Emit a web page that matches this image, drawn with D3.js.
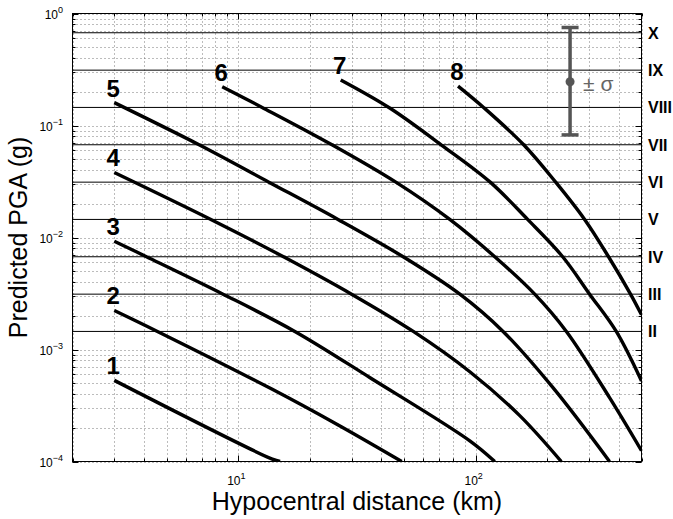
<!DOCTYPE html>
<html><head><meta charset="utf-8">
<script src="https://cdn.jsdelivr.net/npm/d3@7"></script>
<style>
body{margin:0;background:#fff;}
text{font-family:"Liberation Sans",Arial,Helvetica,sans-serif;}
</style>
</head><body>
<svg id="chart" width="673" height="519"></svg>
<script>
// ---- data ----
const magnitudes = [1, 2, 3, 4, 5, 6, 7, 8];
const m1Dist = [3, 13.9, 15.0];
const m1PGA  = [5.30e-4, 1.05e-4, 1.0e-4];
const m2Dist = [3, 4.56, 13.9, 26.0, 48.8];
const m2PGA  = [2.23e-3, 1.45e-3, 4.41e-4, 2.15e-4, 1.0e-4];
const m3Dist = [3, 4.10, 8.62, 17.3, 35.9, 94.5, 120.4];
const m3PGA  = [9.25e-3, 6.73e-3, 3.12e-3, 1.45e-3, 5.6e-4, 1.53e-4, 1.0e-4];
const m4Dist = [3, 7.66, 15.5, 30.0, 54.6, 94.5, 153.4, 229.6];
const m4PGA  = [0.0381, 0.0145, 0.00673, 0.00312, 0.00145, 6.33e-4, 2.57e-4, 1.0e-4];
const m5Dist = [3, 6.83, 13.45, 26.3, 49.5, 85.8, 130.5, 211.8, 366.7];
const m5PGA  = [0.160, 0.0673, 0.0312, 0.0145, 0.00673, 0.00312, 0.00145, 4.56e-4, 1.0e-4];
const m6Dist = [8.55, 12.6, 24.8, 46.1, 77.8, 120.4, 177.4, 241.2, 366.7, 500];
const m6PGA  = [0.222, 0.145, 0.0673, 0.0312, 0.0145, 0.00673, 0.00312, 0.00145, 3.72e-4, 1.25e-4];
const m7Dist = [27.0, 43.6, 71.5, 115.2, 165.6, 232.7, 302.2, 391.4, 500];
const m7PGA  = [0.255, 0.1425, 0.0673, 0.0312, 0.0145, 0.00673, 0.00312, 0.00145, 5.24e-4];
const m8Dist = [84.3, 108.0, 159.4, 217.4, 287.9, 363.2, 449.5, 500];
const m8PGA  = [0.225, 0.145, 0.0673, 0.0312, 0.0145, 0.00673, 0.00312, 0.00204];

const mmiLabels = ["X", "IX", "VIII", "VII", "VI", "V", "IV", "III", "II"];
const mmiPGA    = [0.673, 0.312, 0.145, 0.0673, 0.0312, 0.0145, 0.00673, 0.00312, 0.00145];

const sigmaDist = 250;
const sigmaCenter = 0.246;
const sigmaLow = 0.0824;
const sigmaHigh = 0.75;
const sigmaLabel = "\u00B1 \u03C3";

const xMajorTicks = [10, 100];
const xTickExp = ["1", "2"];
const yMajorTicks = [1e-4, 1e-3, 1e-2, 1e-1, 1];
const yTickExp = ["\u22124", "\u22123", "\u22122", "\u22121", "0"];
const xTitle = "Hypocentral distance (km)";
const yTitle = "Predicted PGA (g)";

// ---- build ----
const curveDists = [m1Dist, m2Dist, m3Dist, m4Dist, m5Dist, m6Dist, m7Dist, m8Dist];
const curvePGAs  = [m1PGA, m2PGA, m3PGA, m4PGA, m5PGA, m6PGA, m7PGA, m8PGA];
const curves = magnitudes.map((m, i) => ({
  m, pts: curveDists[i].map((d, j) => ({d, p: curvePGAs[i][j]}))
}));

const L = 72.5, R = 641.5, T = 13.5, B = 461.5;
const x = d3.scaleLog().domain([2, 500]).range([L, R]);
const y = d3.scaleLog().domain([1e-4, 1]).range([B, T]);

const svg = d3.select("#chart");

const xGrid = [];
for (let e = 0; e <= 2; e++) for (let k = 1; k <= 9; k++) {
  const v = k * Math.pow(10, e); if (v >= 2 && v <= 500) xGrid.push(v);
}
const yGrid = [];
for (let e = -4; e <= 0; e++) for (let k = 1; k <= 9; k++) {
  const v = k * Math.pow(10, e); if (v >= 1e-4 && v <= 1) yGrid.push(v);
}

const grid = svg.append("g").attr("stroke", "#555").attr("stroke-width", 0.8)
  .attr("stroke-dasharray", "1,3").attr("fill", "none");
grid.selectAll(".gx").data(xGrid).join("line")
  .attr("x1", d => Math.round(x(d)) + 0.5).attr("x2", d => Math.round(x(d)) + 0.5)
  .attr("y1", T).attr("y2", B);
grid.selectAll(".gy").data(yGrid).join("line")
  .attr("y1", d => Math.round(y(d)) + 0.5).attr("y2", d => Math.round(y(d)) + 0.5)
  .attr("x1", L).attr("x2", R);

// MMI lines
svg.append("g").selectAll("line").data(mmiPGA).join("line")
  .attr("x1", L).attr("x2", R)
  .attr("y1", d => y(d)).attr("y2", d => y(d))
  .attr("stroke", "#000").attr("stroke-width", 1);

// MMI labels
svg.append("g").selectAll("text").data(mmiLabels).join("text")
  .attr("x", 648).attr("y", (d, i) => y(mmiPGA[i]) + 6)
  .attr("font-size", 16).attr("font-weight", "bold").attr("fill", "#000")
  .text(d => d);

// curves
const line = d3.line().x(d => x(d.d)).y(d => y(d.p)).curve(d3.curveCatmullRom.alpha(0.5));
svg.append("clipPath").attr("id", "plotclip").append("rect")
  .attr("x", L).attr("y", T).attr("width", R - L).attr("height", B - T);
svg.append("g").attr("clip-path", "url(#plotclip)")
  .selectAll("path").data(curves).join("path")
  .attr("d", d => line(d.pts))
  .attr("fill", "none").attr("stroke", "#000").attr("stroke-width", 3.4)
  .attr("stroke-linecap", "butt");

// curve labels
svg.append("g").selectAll("text").data(curves).join("text")
  .attr("x", d => x(d.pts[0].d) - 1).attr("y", d => y(d.pts[0].p) - 6)
  .attr("text-anchor", "middle").attr("font-size", 24).attr("font-weight", "bold")
  .text(d => d.m);

// sigma error bar
const eb = svg.append("g").attr("stroke", "#555").attr("stroke-width", 3.5);
eb.append("line").attr("x1", x(sigmaDist)).attr("x2", x(sigmaDist))
  .attr("y1", y(sigmaHigh)).attr("y2", y(sigmaLow));
eb.append("line").attr("x1", x(sigmaDist) - 8.5).attr("x2", x(sigmaDist) + 8.5)
  .attr("y1", y(sigmaHigh)).attr("y2", y(sigmaHigh));
eb.append("line").attr("x1", x(sigmaDist) - 8.5).attr("x2", x(sigmaDist) + 8.5)
  .attr("y1", y(sigmaLow)).attr("y2", y(sigmaLow));
svg.append("circle").attr("cx", x(sigmaDist)).attr("cy", y(sigmaCenter)).attr("r", 4.5)
  .attr("fill", "#555");
svg.append("text").attr("x", x(sigmaDist) + 13).attr("y", y(sigmaCenter) + 9)
  .attr("font-size", 21).attr("fill", "#666").text(sigmaLabel);

// axes box
svg.append("rect").attr("x", L).attr("y", T).attr("width", R - L).attr("height", B - T)
  .attr("fill", "none").attr("stroke", "#000").attr("stroke-width", 1);

// ticks (inside, all four sides)
const tk = svg.append("g").attr("stroke", "#000").attr("stroke-width", 1);
const isMajor = v => Math.abs(Math.log10(v) - Math.round(Math.log10(v))) < 1e-9;
xGrid.forEach(v => {
  const len = isMajor(v) ? 6 : 3, px = Math.round(x(v)) + 0.5;
  tk.append("line").attr("x1", px).attr("x2", px).attr("y1", B).attr("y2", B - len);
  tk.append("line").attr("x1", px).attr("x2", px).attr("y1", T).attr("y2", T + len);
});
yGrid.forEach(v => {
  const len = isMajor(v) ? 6 : 3, py = Math.round(y(v)) + 0.5;
  tk.append("line").attr("y1", py).attr("y2", py).attr("x1", L).attr("x2", L + len);
  tk.append("line").attr("y1", py).attr("y2", py).attr("x1", R).attr("x2", R - len);
});

// tick labels
const xl = svg.append("g").selectAll("text").data(xMajorTicks).join("text")
  .attr("x", d => x(d) - 2).attr("y", 485).attr("text-anchor", "middle")
  .attr("font-size", 12).attr("fill", "#000");
xl.append("tspan").text("10");
xl.append("tspan").attr("dy", -6).attr("font-size", 9).text((d, i) => xTickExp[i]);

const yl = svg.append("g").selectAll("text").data(yMajorTicks).join("text")
  .attr("x", 63).attr("y", d => y(d) + 5).attr("text-anchor", "end")
  .attr("font-size", 12).attr("fill", "#000");
yl.append("tspan").text("10");
yl.append("tspan").attr("dy", -6).attr("font-size", 9).text((d, i) => yTickExp[i]);

// axis titles
svg.append("text").attr("x", (L + R) / 2).attr("y", 510).attr("text-anchor", "middle")
  .attr("font-size", 25).text(xTitle);
svg.append("text").attr("transform", `translate(27,${(T + B) / 2}) rotate(-90)`)
  .attr("text-anchor", "middle").attr("font-size", 25).text(yTitle);
</script>
</body></html>
